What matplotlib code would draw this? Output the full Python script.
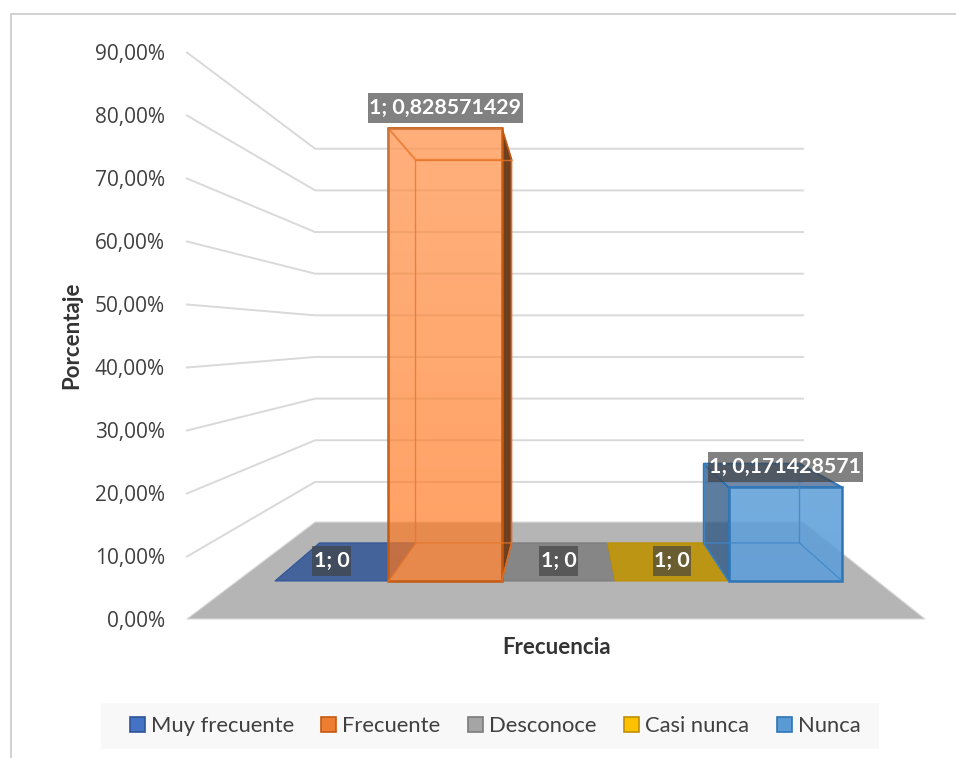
import numpy as np
import matplotlib
matplotlib.use("Agg")
import matplotlib.pyplot as plt
from matplotlib.patches import Polygon, Rectangle, Patch

# data
categories = ["Muy frecuente", "Frecuente", "Desconoce", "Casi nunca", "Nunca"]
values = [0, 0.828571429, 0, 0, 0.171428571]
bar_labels = ["1; 0", "1; 0,828571429", "1; 0", "1; 0", "1; 0,171428571"]
ticks = [0, 0.1, 0.2, 0.3, 0.4, 0.5, 0.6, 0.7, 0.8, 0.9]
tick_labels = ["0,00%", "10,00%", "20,00%", "30,00%", "40,00%", "50,00%",
               "60,00%", "70,00%", "80,00%", "90,00%"]

legend_colors = ["#4472C4", "#ED7D31", "#A5A5A5", "#FFC000", "#5B9BD5"]
legend_edges = ["#2F5597", "#C55A11", "#7B7B7B", "#BF9000", "#2E75B6"]

# perspective of the 3D box
vx, vy = 565, 333
floor_y = 286
unit = 630         # pixels per 100% at the front wall
s_front, s_back = 1.0, 0.661
s_bar_front, s_bar_back = 0.867, 0.734
wall_left, wall_right = -378, 360
bars_left, bar_step = -334.5, 130.8


def proj(x, v, s):
    return (vx + x * s, vy + (floor_y - v * unit) * s)


fig = plt.figure(figsize=(9.56, 7.58), dpi=100)
ax = fig.add_axes([0, 0, 1, 1])
ax.set_xlim(0, 956)
ax.set_ylim(758, 0)
ax.axis("off")

# outer chart border
ax.plot([11, 11, 956], [758, 14, 14], color="#c9c9c9", lw=1.2, zorder=1)

# floor
ax.add_patch(Polygon([proj(wall_left, 0, s_front), proj(wall_right, 0, s_front),
                      proj(wall_right, 0, s_back), proj(wall_left, 0, s_back)],
                     fc="#b5b5b5", ec="#d9d9d9", lw=0.8, zorder=2))

# walls grid
for t, lab in zip(ticks, tick_labels):
    a = proj(wall_left, t, s_front)
    b = proj(wall_left, t, s_back)
    c = proj(wall_right, t, s_back)
    if t > 0:
        ax.plot([a[0], b[0], c[0]], [a[1] + 0.5, b[1] + 1.5, c[1] + 1.5], color="#d9d9d9", lw=1.4, zorder=2)
    ax.text(165, a[1] + 2.5, lab, ha="right", va="center", fontsize=15,
            family="Open Sans", color="#404040", zorder=6)

# flat bars lying on the floor
flat_colors = ["#44639a", "#ed7d31", "#868686", "#bd9514", "#5b9bd5"]
for i, v in enumerate(values):
    x0 = bars_left + bar_step * i
    x1 = x0 + bar_step
    if v == 0:
        ax.add_patch(Polygon([proj(x0, 0, s_bar_front), proj(x1, 0, s_bar_front),
                              proj(x1, 0, s_bar_back), proj(x0, 0, s_bar_back)],
                             fc=flat_colors[i], ec=legend_edges[i], lw=0.8, zorder=3))

# the two standing bars: colours of faces
face_styles = {
    1: dict(front=(1.0, 0.46, 0.10, 0.68), side="#6e4020", edge="#c55a11", inner="#e8752a",
            top=(1.0, 0.65, 0.40, 0.05), light=0.16),
    4: dict(front=(0.36, 0.62, 0.85, 0.88), side=(0.18, 0.34, 0.52, 0.78), edge="#2e75b6",
            inner="#3f87c8", top=(0.30, 0.42, 0.58, 0.80), light=0.03),
}
for i, st in face_styles.items():
    v = values[i]
    x0 = bars_left + bar_step * i
    x1 = x0 + bar_step
    fl = [proj(x0, 0, s_bar_front), proj(x1, 0, s_bar_front),
          proj(x1, v, s_bar_front), proj(x0, v, s_bar_front)]
    bk = [proj(x0, 0, s_bar_back), proj(x1, 0, s_bar_back),
          proj(x1, v, s_bar_back), proj(x0, v, s_bar_back)]
    ax.add_patch(Polygon([fl[3], fl[2], bk[2], bk[3]], fc=st["top"], ec=st["edge"], lw=1.4, zorder=4))
    # side face that shows: right for the bar left of centre, left otherwise
    j = 1 if i < 2 else 0
    side = [fl[j], bk[j], bk[3 - j], fl[3 - j]]
    ax.add_patch(Polygon(side, fc=st["side"], ec=st["edge"], lw=1.0, zorder=4))
    front = Polygon(fl, fc=st["front"], ec=st["edge"], lw=1.8, zorder=5)
    ax.add_patch(front)
    # soft light from the top of the face
    grad = np.zeros((64, 2, 4))
    grad[..., :3] = 1.0
    grad[..., 3] = np.linspace(st["light"], 0, 64)[:, None]
    im = ax.imshow(grad, extent=(fl[0][0], fl[1][0], fl[0][1], fl[3][1]),
                   aspect="auto", zorder=5, interpolation="bilinear")
    im.set_clip_path(front)
    # hidden edges seen through the front
    ax.plot([fl[0][0], bk[0][0], bk[1][0]], [fl[0][1], bk[0][1], bk[1][1]],
            color=st["inner"], lw=1.0, alpha=0.8, zorder=5.5)
    ax.plot([fl[1][0], bk[1][0], bk[2][0]], [fl[1][1], bk[1][1], bk[2][1]],
            color=st["inner"], lw=1.0, alpha=0.8, zorder=5.5)
    ax.plot([bk[0][0], bk[3][0], bk[2][0]], [bk[0][1], bk[3][1], bk[2][1]],
            color=st["inner"], lw=1.0, alpha=0.8, zorder=5.5)

ax.set_xlim(0, 956)
ax.set_ylim(758, 0)

# data labels, box sized from the drawn text
renderer = fig.canvas.get_renderer()
for i, (v, lab) in enumerate(zip(values, bar_labels)):
    x, y = proj(bars_left + bar_step * (i + 0.5), v, s_bar_front)
    t = ax.text(x, y - 20, lab, ha="center", va="center", fontsize=15.4, family="Lato",
                weight="bold", color="white", zorder=7)
    w = t.get_window_extent(renderer).width + 3
    ax.add_patch(Rectangle((x - w / 2, y - 35), w, 30, fc=(0.25, 0.25, 0.25, 0.66),
                           ec="none", zorder=6.5))

# axis titles
ax.text(72, 335, "Porcentaje", rotation=90, ha="center", va="center", fontsize=16,
        family="Lato", weight="bold", color="#333333", zorder=6)
ax.text(557, 647, "Frecuencia", ha="center", va="center", fontsize=16,
        family="Lato", weight="bold", color="#333333", zorder=6)

# legend
ax.add_patch(Rectangle((101, 703), 778, 46, fc="#f8f8f8", ec="none", zorder=5))
handles = [Patch(fc=c, ec=e, lw=1.2, label=n)
           for n, c, e in zip(categories, legend_colors, legend_edges)]
leg = ax.legend(handles=handles, ncols=5, loc="center",
                bbox_to_anchor=(495 / 956, 1 - 726 / 758), frameon=False,
                prop=dict(family="Lato", size=15.8), labelcolor="#404040",
                handlelength=0.68, handleheight=0.68, handletextpad=0.28,
                columnspacing=1.25, borderpad=0.5)
leg.set_zorder(6)

fig.savefig("out.png", dpi=100)
